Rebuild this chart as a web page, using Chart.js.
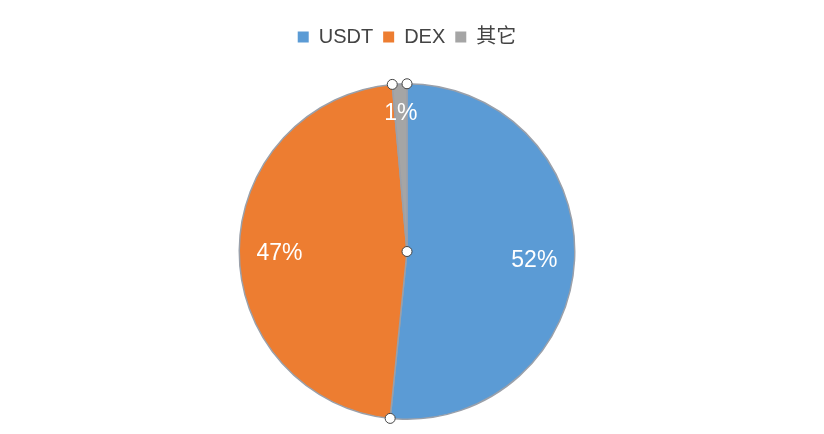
<!DOCTYPE html>
<html>
<head>
<meta charset="utf-8">
<script src="https://cdn.jsdelivr.net/npm/chart.js@4"></script>
<style>
  html, body { margin: 0; padding: 0; background: #fff; }
  #wrap { width: 824px; height: 434px; }
</style>
</head>
<body>
<div id="wrap"><canvas id="myChart" width="824" height="434"></canvas></div>
<script>
const labels = ['USDT', 'DEX', '其它'];
const shares = [51.6, 47.0, 1.4];
const pctLabels = ['52%', '47%', '1%'];
const colors = ['#5B9BD5', '#ED7D31', '#A5A5A5'];

const fontFamily = "'Liberation Sans', Arial, 'Noto Sans CJK SC', sans-serif";

// extra room under the legend
const legendGap = {
  id: 'legendGap',
  beforeInit(chart) {
    const fit = chart.legend.fit;
    chart.legend.fit = function() {
      fit.bind(chart.legend)();
      this.height += 26;
    };
  }
};

// percent labels inside the slices + the little white handle dots
const sliceExtras = {
  id: 'sliceExtras',
  afterDatasetsDraw(chart) {
    const ctx = chart.ctx;
    const arcs = chart.getDatasetMeta(0).data;
    ctx.save();
    ctx.fillStyle = '#fff';
    ctx.font = '23px ' + fontFamily;
    ctx.textAlign = 'center';
    ctx.textBaseline = 'middle';
    arcs.forEach((arc, i) => {
      const mid = (arc.startAngle + arc.endAngle) / 2;
      const r = arc.outerRadius * (i == 2 ? 0.84 : 0.76);
      ctx.fillText(pctLabels[i], arc.x + Math.cos(mid) * r, arc.y + Math.sin(mid) * r + 3);
    });
    const dot = (x, y) => {
      ctx.beginPath();
      ctx.arc(x, y, 5, 0, Math.PI * 2);
      ctx.fillStyle = '#fff';
      ctx.fill();
      ctx.lineWidth = 1;
      ctx.strokeStyle = '#444';
      ctx.stroke();
    };
    arcs.forEach(arc => {
      dot(arc.x + Math.cos(arc.startAngle) * arc.outerRadius, arc.y + Math.sin(arc.startAngle) * arc.outerRadius);
    });
    dot(arcs[0].x, arcs[0].y);
    ctx.restore();
  }
};

var ctx = document.getElementById('myChart').getContext('2d');
var myChart = new Chart(ctx, {
  type: 'pie',
  data: {
    labels: labels,
    datasets: [{
      data: shares,
      backgroundColor: colors,
      borderColor: '#9aa0aa',
      borderWidth: 1.5
    }]
  },
  options: {
    responsive: false,
    animation: false,
    layout: { padding: { top: 17, bottom: 14, right: 10 } },
    plugins: {
      legend: {
        position: 'top',
        labels: {
          boxWidth: 11,
          boxHeight: 11,
          padding: 10,
          color: '#444',
          font: { size: 20, family: fontFamily },
          generateLabels(chart) {
            const items = Chart.overrides.pie.plugins.legend.labels.generateLabels(chart);
            items.forEach(it => { it.lineWidth = 0; it.strokeStyle = 'rgba(0,0,0,0)'; });
            return items;
          }
        }
      },
      tooltip: { enabled: false }
    }
  },
  plugins: [legendGap, sliceExtras]
});
</script>
</body>
</html>
